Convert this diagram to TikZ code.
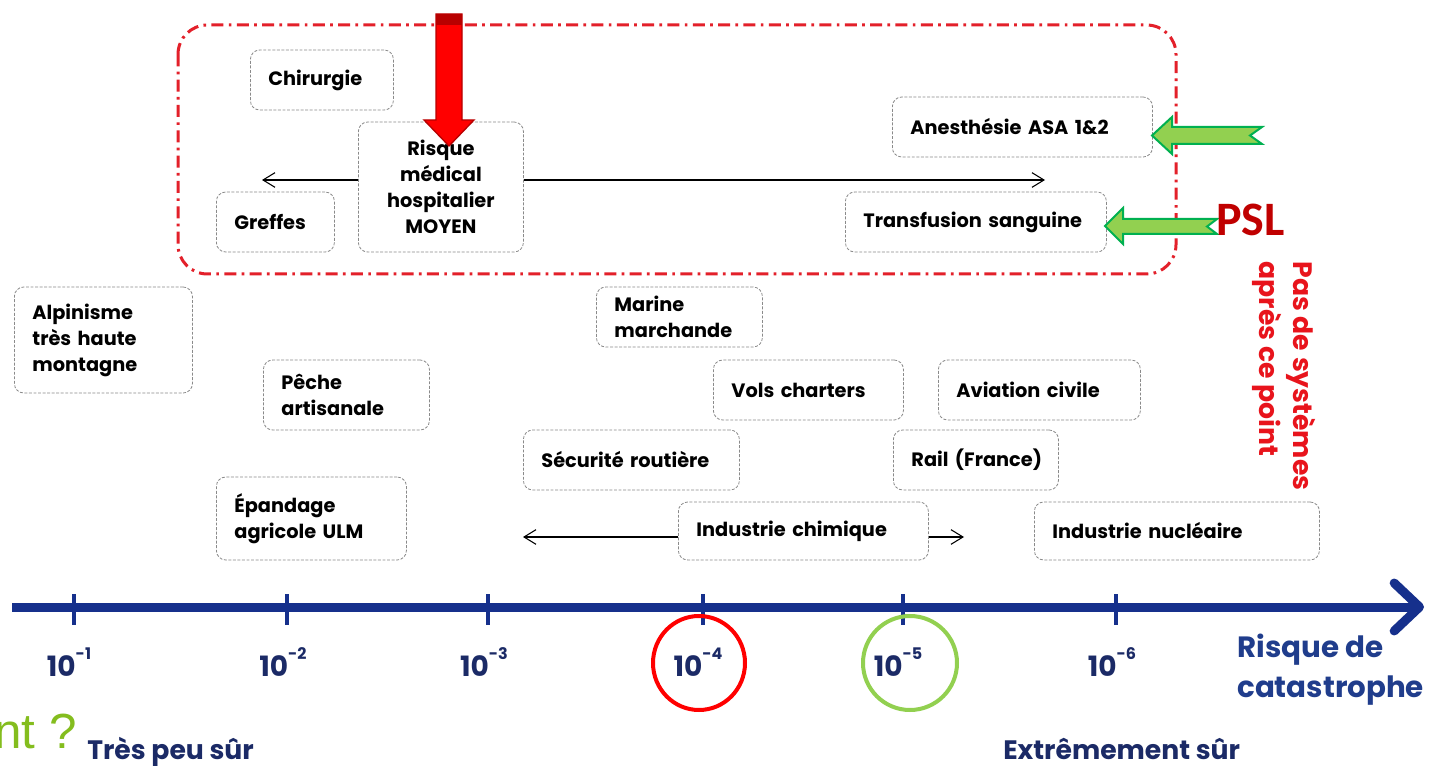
\documentclass[tikz,border=0pt]{standalone}
\usepackage{fontspec}
\setmainfont{Poppins}
\newfontfamily\pslfont{Carlito}
\newfontfamily\arialfont{Liberation Sans}
\usetikzlibrary{arrows.meta}
\definecolor{boxgray}{HTML}{8A8A8A}
\definecolor{framered}{HTML}{E3202A}
\definecolor{axisblue}{HTML}{16308C}
\definecolor{labnavy}{HTML}{1B2A66}
\definecolor{catblue}{HTML}{203D8C}
\definecolor{vred}{HTML}{E8141C}
\definecolor{pslred}{HTML}{C00000}
\definecolor{gfill}{HTML}{92D050}
\definecolor{gline}{HTML}{00B050}
\definecolor{qgreen}{HTML}{84BD1E}
\definecolor{arrred}{HTML}{FF0000}
\definecolor{arrdark}{HTML}{B80000}
\newcommand\tsup[1]{\raisebox{0.62em}{\fontsize{12}{12}\selectfont #1}}
\tikzset{
  box/.style={draw=boxgray, line width=0.6pt, dash pattern=on 2.2pt off 1.2pt,
    rounded corners=7pt, font=\fontsize{14.5}{19.5}\selectfont\bfseries, text=black,
    inner ysep=0pt, inner xsep=13.5pt, align=left, anchor=west},
  thinarr/.style={draw=black, line width=0.8pt, -{Straight Barb[length=9pt,width=11pt]}},
  ticklab/.style={font=\fontsize{21}{24}\selectfont\bfseries, text=labnavy, inner sep=0pt},
  bigtext/.style={font=\fontsize{20}{30}\selectfont\bfseries, inner sep=0pt},
  greenarr/.style={fill=gfill, draw=gline, line width=1.5pt, line join=miter},
}
\begin{document}
\begin{tikzpicture}[x=0.75pt, y=-0.75pt]
\path[fill=white] (0,0) rectangle (1429,766);
\useasboundingbox (0,0) rectangle (1429,766);

% red dash-dot frame
\draw[framered, line width=2.25pt, dash pattern=on 9pt off 4pt on 2pt off 4pt, rounded corners=22pt]
  (178,25) rectangle (1176,274);

% boxes
\node[box, text width=80.25pt, minimum height=45pt] (chir) at (250,80) {Chirurgie};
\node[box, text width=96.75pt, minimum height=97.5pt, align=center] (risque) at (358,187)
  {Risque\\médical\\hospitalier\\MOYEN};
\node[box, text width=61.5pt, minimum height=45pt] (greffes) at (216,222) {Greffes};
\node[box, text width=168pt, minimum height=45pt] (anesth) at (892,127) {Anesthésie~ASA~1\&2};
\node[box, text width=168.75pt, minimum height=45pt] (transf) at (845,222) {Transfusion~sanguine};
\node[box, text width=106.5pt, minimum height=79.5pt] (alpin) at (14,340) {Alpinisme\\très~haute\\montagne};
\node[box, text width=97.5pt, minimum height=52.5pt] (peche) at (263,395) {Pêche\\artisanale};
\node[box, text width=115.5pt, minimum height=62.25pt] (epand) at (216,518.5) {Épandage\\agricole~ULM};
\node[box, text width=97.5pt, minimum height=45pt] (marine) at (596,317) {Marine\\marchande};
\node[box, text width=115.5pt, minimum height=45pt] (vols) at (713,390) {Vols~charters};
\node[box, text width=124.5pt, minimum height=45pt] (aviation) at (938,390) {Aviation~civile};
\node[box, text width=135pt, minimum height=45pt] (securite) at (523,460) {Sécurité~routière};
\node[box, text width=96.75pt, minimum height=45pt] (rail) at (893,460) {Rail~(France)};
\node[box, text width=160.5pt, minimum height=43.5pt] (chimique) at (678,531) {Industrie~chimique};
\node[box, text width=186.75pt, minimum height=43.5pt] (nucleaire) at (1034,531) {Industrie~nucléaire};

% thin range arrows
\coordinate (rl) at (262,180);
\coordinate (rr) at (1045,180);
\coordinate (cl) at (523,537);
\coordinate (cr) at (964,537);
\draw[thinarr] (risque.west |- rl) -- (rl);
\draw[thinarr] (risque.east |- rr) -- (rr);
\draw[thinarr] (chimique.west |- cl) -- (cl);
\draw[thinarr] (chimique.east |- cr) -- (cr);

% red block arrow
\filldraw[fill=arrred, draw=arrdark, line width=1pt, line join=miter]
  (436,14) -- (462,14) -- (462,120) -- (474,120) -- (449,146) -- (424,120) -- (436,120) -- cycle;
\fill[arrdark] (436,14) rectangle (462,25);

% green arrows
\draw[greenarr] (1152,135.5) -- (1172,117) -- (1172,127) -- (1262,127) -- (1250,135.5)
  -- (1262,144) -- (1172,144) -- (1172,154) -- cycle;
\draw[greenarr] (1105,226) -- (1123,208) -- (1123,219) -- (1217,219) -- (1207,226.5)
  -- (1217,234) -- (1123,234) -- (1123,244) -- cycle;
\node[font=\pslfont\fontsize{36}{40}\selectfont\bfseries, text=pslred, anchor=base west, inner sep=0pt]
  (psl) at (1216,236) {PSL};

% vertical text
\node[font=\fontsize{20}{26}\selectfont\bfseries, text=vred, rotate=-90, align=left, inner sep=0pt]
  (vtext) at (1284,376) {Pas de systèmes\\après ce point};

% axis
\coordinate (axL) at (12,607);
\coordinate (axR) at (1424,607);
\draw[axisblue, line width=6.75pt, -{Straight Barb[length=19pt,width=36pt,round]}] (axL) -- (axR);
\foreach \tx in {74,287,488,703,903,1116}
  \draw[axisblue, line width=3pt] (\tx,594) -- (\tx,625);

\node[ticklab] (t1) at (69,662) {10\tsup{-1}};
\node[ticklab] (t2) at (283,662) {10\tsup{-2}};
\node[ticklab] (t3) at (484,662) {10\tsup{-3}};
\node[ticklab] (t4) at (698,662) {10\tsup{-4}};
\node[ticklab] (t5) at (898,662) {10\tsup{-5}};
\node[ticklab] (t6) at (1112,662) {10\tsup{-6}};

\draw[arrred, line width=3pt] (699,663) ellipse [x radius=34.5pt, y radius=35.25pt];
\draw[gfill, line width=3pt] (910,663) ellipse [x radius=35.25pt, y radius=35.25pt];

\node[bigtext, font=\fontsize{22}{30}\selectfont\bfseries, text=catblue, align=left, anchor=west] (cat) at (1237,670) {Risque de\\catastrophe};
\node[bigtext, text=labnavy, anchor=base west] (tps) at (87,759) {Très peu sûr};
\node[bigtext, text=labnavy, anchor=base west] (ext) at (1003,759) {Extrêmement sûr};
\node[font=\arialfont\fontsize{37}{40}\selectfont, text=qgreen, anchor=base west, inner sep=0pt]
  (q) at (-6,748) {nt ?};
\end{tikzpicture}
\end{document}
